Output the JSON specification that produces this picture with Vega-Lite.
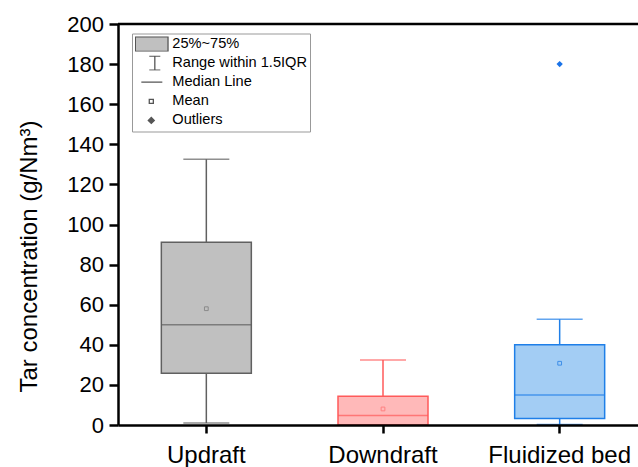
{
  "$schema": "https://vega.github.io/schema/vega-lite/v6.json",
  "width": 520,
  "height": 401,
  "autosize": {"type": "none"},
  "padding": {"left": 118, "top": 24, "right": 0, "bottom": 42},
  "background": "white",
  "config": {
    "view": {"stroke": null},
    "font": "Liberation Sans",
    "axis": {"grid": false, "domainColor": "black", "tickColor": "black", "labelColor": "black", "titleColor": "black", "labelFont": "Liberation Sans", "titleFont": "Liberation Sans", "labelFontWeight": "normal", "titleFontWeight": "normal"}
  },
  "datasets": {
    "stats": [
      {"type": "Updraft", "min": 1, "q1": 25.8, "median": 50, "q3": 91.2, "max": 132.5, "mean": 58},
      {"type": "Downdraft", "min": 0, "q1": 0, "median": 4.8, "q3": 14.4, "max": 32.4, "mean": 8},
      {"type": "Fluidized bed", "min": 0.3, "q1": 3.3, "median": 15, "q3": 40, "max": 52.7, "mean": 30.8}
    ],
    "outliers": [{"type": "Fluidized bed", "value": 180}],
    "legendrows": [
      {"entry": "25%~75%"},
      {"entry": "Range within 1.5IQR"},
      {"entry": "Median Line"},
      {"entry": "Mean"},
      {"entry": "Outliers"}
    ],
    "frame": [{"top": 200}]
  },
  "layer": [
    {
      "data": {"name": "stats"},
      "mark": {"type": "rule", "strokeWidth": 1.5},
      "encoding": {
        "x": {
          "field": "type", "type": "nominal", "sort": null,
          "scale": {"domain": ["Updraft", "Downdraft", "Fluidized bed"], "range": [0, 530], "paddingInner": 0, "paddingOuter": 0},
          "axis": {"title": null, "labelAngle": 0, "labelFontSize": 24, "labelPadding": 10, "tickSize": 8, "tickWidth": 2.5, "domain": true, "ticks": true, "domainWidth": 2.5, "domainColor": "black", "tickColor": "black", "labelBaseline": "top", "zindex": 1}
        },
        "y": {"field": "min", "type": "quantitative",
          "scale": {"domain": [0, 200], "nice": false, "zero": true},
          "axis": {
            "title": "Tar concentration (g/Nm³)",
            "values": [0, 10, 20, 30, 40, 50, 60, 70, 80, 90, 100, 110, 120, 130, 140, 150, 160, 170, 180, 190, 200],
            "labelExpr": "datum.value % 20 === 0 ? datum.label : ''",
            "labelFontSize": 22, "labelPadding": 5.5, "tickSize": 9, "tickWidth": 2.5, "domain": true, "ticks": true, "domainWidth": 2.5, "domainColor": "black", "tickColor": "black", "zindex": 1,
            "encode": {"ticks": {"update": {"x2": {"signal": "datum.value % 20 === 0 ? -9 : -5"}}}},
            "titleFontSize": 24, "titleX": -82, "titleY": 232, "titleBaseline": "alphabetic", "titleAngle": -90, "titleAlign": "center"
          }
        },
        "y2": {"field": "max"},
        "stroke": {"field": "type", "type": "nominal", "scale": {"domain": ["Updraft", "Downdraft", "Fluidized bed"], "range": ["#606060", "#ff5a5a", "#1f7fe8"]}, "legend": null}
      }
    },
    {
      "data": {"name": "stats"},
      "mark": {"type": "bar", "size": 90, "strokeWidth": 1.5},
      "encoding": {
        "x": {"field": "type", "type": "nominal", "sort": null},
        "y": {"field": "q1", "type": "quantitative"},
        "y2": {"field": "q3"},
        "fill": {"field": "type", "type": "nominal", "scale": {"domain": ["Updraft", "Downdraft", "Fluidized bed"], "range": ["#c0c0c0", "#ffb9b9", "#a3cdf4"]}, "legend": null},
        "stroke": {"field": "type", "type": "nominal", "scale": {"domain": ["Updraft", "Downdraft", "Fluidized bed"], "range": ["#606060", "#ff5a5a", "#1f7fe8"]}, "legend": null}
      }
    },
    {
      "data": {"name": "stats"},
      "mark": {"type": "tick", "size": 90, "thickness": 1.5, "orient": "horizontal"},
      "encoding": {
        "x": {"field": "type", "type": "nominal", "sort": null},
        "y": {"field": "median", "type": "quantitative"},
        "fill": {"field": "type", "type": "nominal", "scale": {"domain": ["Updraft", "Downdraft", "Fluidized bed"], "range": ["#606060", "#ff5a5a", "#1f7fe8"]}, "legend": null}
      }
    },
    {
      "data": {"name": "stats"},
      "mark": {"type": "tick", "size": 46, "thickness": 1.5, "orient": "horizontal"},
      "encoding": {
        "x": {"field": "type", "type": "nominal", "sort": null},
        "y": {"field": "max", "type": "quantitative"},
        "fill": {"field": "type", "type": "nominal", "scale": {"domain": ["Updraft", "Downdraft", "Fluidized bed"], "range": ["#606060", "#ff5a5a", "#1f7fe8"]}, "legend": null}
      }
    },
    {
      "data": {"name": "stats"},
      "mark": {"type": "tick", "size": 46, "thickness": 1.5, "orient": "horizontal"},
      "encoding": {
        "x": {"field": "type", "type": "nominal", "sort": null},
        "y": {"field": "min", "type": "quantitative"},
        "fill": {"field": "type", "type": "nominal", "scale": {"domain": ["Updraft", "Downdraft", "Fluidized bed"], "range": ["#606060", "#ff5a5a", "#1f7fe8"]}, "legend": null}
      }
    },
    {
      "data": {"name": "stats"},
      "mark": {"type": "point", "shape": "square", "size": 14, "filled": false, "strokeWidth": 1, "opacity": 1},
      "encoding": {
        "x": {"field": "type", "type": "nominal", "sort": null},
        "y": {"field": "mean", "type": "quantitative"},
        "stroke": {"field": "type", "type": "nominal", "scale": {"domain": ["Updraft", "Downdraft", "Fluidized bed"], "range": ["#8a8a8a", "#ff8080", "#3f8fe8"]}, "legend": null}
      }
    },
    {
      "data": {"name": "outliers"},
      "mark": {"type": "point", "shape": "diamond", "size": 40, "filled": true, "opacity": 1},
      "encoding": {
        "x": {"field": "type", "type": "nominal", "sort": null},
        "y": {"field": "value", "type": "quantitative"},
        "fill": {"field": "type", "type": "nominal", "scale": {"domain": ["Fluidized bed"], "range": ["#1a73e8"]}, "legend": null}
      }
    },
    {
      "data": {"name": "frame"},
      "mark": {"type": "rule", "strokeWidth": 2.5, "color": "black"},
      "encoding": {"y": {"field": "top", "type": "quantitative"}}
    },
    {
      "data": {"name": "legendrows"},
      "transform": [{"filter": "false"}],
      "mark": {"type": "point", "filled": true, "opacity": 1},
      "encoding": {
        "color": {
          "field": "entry", "type": "nominal",
          "scale": {"domain": ["25%~75%", "Range within 1.5IQR", "Median Line", "Mean", "Outliers"], "range": ["#c0c0c0", "white", "white", "white", "#555555"]},
          "legend": {
            "title": null, "orient": "none", "legendX": 14, "legendY": 9.5,
            "padding": 3, "strokeColor": "#999999", "fillColor": "white",
            "labelFontSize": 14.6, "labelFont": "Liberation Sans", "labelColor": "black", "labelOffset": 20.3, "labelLimit": 300,
            "rowPadding": 3.1, "clipHeight": 15, "symbolSize": 225, "symbolOpacity": 1,
            "encode": {"symbols": {"update": {"stroke": {"value": "#555555"}, "strokeWidth": {"value": 1.3}, "opacity": {"value": 1}}}}
          }
        },
        "shape": {
          "field": "entry", "type": "nominal",
          "scale": {"domain": ["25%~75%", "Range within 1.5IQR", "Median Line", "Mean", "Outliers"],
            "range": ["M-1.09,-0.97H3.27V0.97H-1.09Z", "M0.77,-0.93H2.24M1.51,-0.93V0.93M0.77,0.93H2.24", "M-0.29,0H2.51", "M0.77,-0.27H1.31V0.27H0.77Z", "M1.04,-0.4L1.44,0L1.04,0.4L0.64,0Z"]},
          "legend": {
            "title": null, "orient": "none", "legendX": 14, "legendY": 9.5,
            "padding": 3, "strokeColor": "#999999", "fillColor": "white",
            "labelFontSize": 14.6, "labelFont": "Liberation Sans", "labelColor": "black", "labelOffset": 20.3, "labelLimit": 300,
            "rowPadding": 3.1, "clipHeight": 15, "symbolSize": 225, "symbolOpacity": 1,
            "encode": {"symbols": {"update": {"stroke": {"value": "#555555"}, "strokeWidth": {"value": 1.3}, "opacity": {"value": 1}}}}
          }
        }
      }
    }
  ],
  "resolve": {"scale": {"fill": "independent", "stroke": "independent"}}
}
